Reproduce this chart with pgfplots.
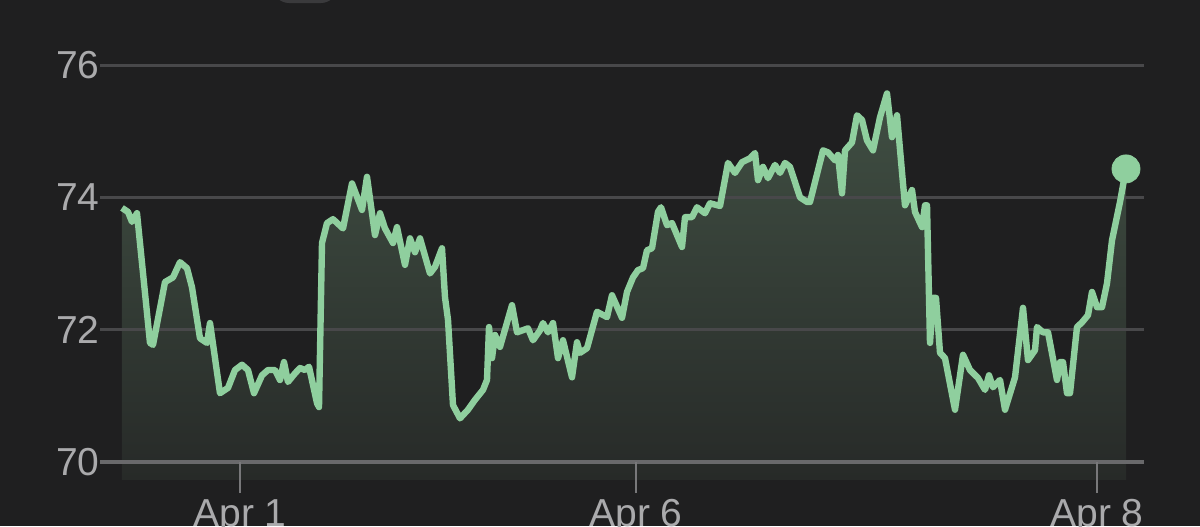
\documentclass[border=0pt]{standalone}
\usepackage{fontspec}
\setmainfont{Liberation Sans}
\usepackage{pgfplots}
\pgfplotsset{compat=1.18}
\usepackage{pgfplotstable}

\definecolor{bg}{RGB}{31,31,32}
\definecolor{pill}{RGB}{58,58,60}
\definecolor{gridc}{RGB}{72,72,74}
\definecolor{basec}{RGB}{105,105,107}
\definecolor{tickc}{RGB}{120,120,122}
\definecolor{labelc}{RGB}{170,170,172}
\definecolor{linec}{RGB}{143,207,158}
\definecolor{filltop}{RGB}{64,79,67}
\definecolor{fillbot}{RGB}{39,42,40}

% price series, x in chart position units
\pgfplotstableread{
x y
122 73.84
128 73.78
132 73.63
137 73.76
150 71.80
153 71.77
165 72.72
173 72.79
180 73.02
187 72.93
192 72.64
200 71.87
207 71.80
210 72.10
220 71.04
228 71.12
235 71.39
242 71.47
248 71.39
254 71.04
262 71.31
268 71.39
275 71.39
280 71.24
284 71.51
288 71.21
295 71.34
300 71.42
305 71.39
309 71.44
317 70.89
319 70.83
322 73.31
327 73.61
333 73.67
343 73.53
352 74.21
362 73.81
367 74.31
375 73.43
380 73.76
385 73.53
393 73.31
397 73.55
405 72.98
410 73.38
415 73.17
420 73.38
430 72.85
435 72.95
442 73.23
445 72.49
448 72.15
453 70.86
460 70.66
468 70.79
475 70.94
483 71.09
487 71.24
489 72.04
492 71.57
495 71.92
500 71.74
512 72.37
517 71.96
528 72.02
533 71.84
540 71.99
543 72.10
548 71.96
553 72.10
558 71.57
563 71.84
572 71.28
577 71.81
580 71.65
587 71.72
597 72.27
607 72.19
612 72.52
622 72.18
627 72.57
633 72.79
638 72.90
643 72.93
647 73.20
652 73.23
658 73.78
661 73.85
667 73.58
672 73.61
682 73.25
685 73.70
692 73.70
697 73.85
705 73.76
710 73.91
720 73.87
728 74.52
735 74.37
742 74.53
750 74.59
755 74.67
758 74.26
763 74.46
768 74.29
775 74.49
780 74.37
785 74.52
790 74.46
800 74.00
807 73.93
810 73.93
823 74.71
828 74.68
835 74.56
838 74.64
842 74.06
845 74.71
852 74.83
857 75.24
862 75.17
867 74.86
873 74.71
880 75.21
887 75.57
892 74.91
897 75.24
903 74.21
905 73.88
912 74.11
915 73.78
922 73.55
925 73.88
927 73.88
930 71.80
933 72.48
936 72.48
940 71.65
945 71.57
955 70.79
963 71.62
970 71.39
978 71.27
985 71.09
989 71.31
993 71.13
1000 71.24
1005 70.79
1015 71.28
1023 72.33
1028 71.54
1035 71.69
1037 72.04
1043 71.96
1048 71.96
1057 71.24
1060 71.51
1063 71.51
1067 71.04
1070 71.04
1077 72.04
1082 72.11
1088 72.22
1092 72.57
1097 72.34
1102 72.34
1107 72.70
1112 73.35
1120 73.93
1126 74.43
}\prices

\begin{document}
\begin{tikzpicture}[x=1pt,y=1pt]
\fill[bg] (-50,-32) rectangle (550,231);
\begin{scope}
\clip (-50,-32) rectangle (550,231);
\fill[pill, rounded corners=8pt] (86.5,229.5) rectangle (118.5,252);
\begin{axis}[
    scale only axis,
    width=522pt, height=198.5pt,
    at={(0,0)}, anchor=south west,
    xmin=100, xmax=1144,
    ymin=70, ymax=76,
    clip=false,
    axis on top,
    axis line style={draw=none},
    font=\fontsize{19.5}{22}\selectfont,
    /pgf/number format/assume math mode=true,
    ticklabel style={color=labelc},
    ytick={70,72,74,76},
    ytick style={draw=none},
    yticklabel style={anchor=east, inner sep=0pt, xshift=15.5pt},
    xtick={240,636,1097},
    xticklabels={Apr 1, Apr 6, Apr 8},
    xtick pos=bottom,
    tick align=outside,
    major tick length=15.5pt,
    xtick style={tickc, line width=1pt},
    xticklabel style={anchor=base, inner sep=0pt, yshift=-16.5pt},
]
% area under the line
\addplot[draw=none, top color=filltop, bottom color=fillbot]
    table {\prices} -- (axis cs:1126,69.73) -- (axis cs:122,69.73) -- cycle;
% horizontal gridlines, drawn over the area
\addplot[gridc, line width=1.5pt] coordinates {(100,76) (1144,76)};
\addplot[gridc, line width=1.5pt] coordinates {(100,74) (1144,74)};
\addplot[gridc, line width=1.5pt] coordinates {(100,72) (1144,72)};
\addplot[basec, line width=2pt] coordinates {(100,70) (1144,70)};
% price line and last value
\addplot[linec, line width=3.2pt, line join=round] table {\prices};
\addplot[only marks, mark=*, mark size=7pt, linec] coordinates {(1126,74.43)};
\end{axis}
\end{scope}
\pgfresetboundingbox
\path[use as bounding box] (-50,-32) rectangle (550,231);
\end{tikzpicture}
\end{document}
